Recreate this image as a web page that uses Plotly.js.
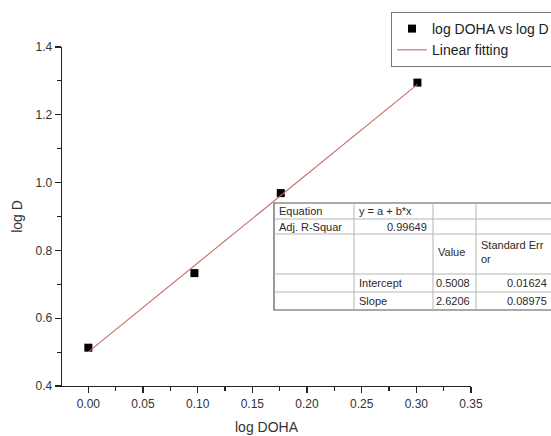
<!DOCTYPE html>
<html>
<head>
<meta charset="utf-8">
<script src="https://cdn.plot.ly/plotly-3.0.1.min.js"></script>
<style>html,body{margin:0;padding:0;background:#fff;}#chart{width:551px;height:436px;}</style>
</head>
<body>
<div id="chart"></div>
<script>
// ---- data ----
const logDOHA = [0, 0.097, 0.176, 0.301];
const logD = [0.513, 0.733, 0.969, 1.295];
const fitX = [0, 0.301];
const fitY = [0.5008, 1.2896];
const seriesName = 'log DOHA vs log D';
const fitName = 'Linear fitting';
const xTickVals = [0, 0.05, 0.10, 0.15, 0.20, 0.25, 0.30, 0.35];
const yTickVals = [0.4, 0.6, 0.8, 1.0, 1.2, 1.4];
// fit report table (rows of cells, '' = empty cell)
const tableCol1 = ['Equation', 'Adj. R-Squar', '', '', ''];
const tableCol2 = ['y = a + b*x', '0.99649', '', 'Intercept', 'Slope'];
const tableCol3 = ['', '', 'Value', '0.5008', '2.6206'];
const tableCol4 = ['', '', 'Standard Err<br>or', '0.01624', '0.08975'];

// ---- layout helpers (pixel -> paper) ----
const W = 551, H = 436, L = 62, R = 80, T = 47, B = 50;
const PW = W - L - R, PH = H - T - B;
const px = p => (p - L) / PW;
const py = p => (H - B - p) / PH;

const font = 'Arial, "Liberation Sans", sans-serif';
const txtColor = '#2a2a2a';

// table geometry
const colX = [274, 354, 433, 476, 600];
const colTextRight = [350, 429, 472, 549];
const rowY = [203, 219, 234, 274, 292, 310];
const shapes = [];
shapes.push({type:'rect', xref:'paper', yref:'paper', x0:px(colX[0]), x1:px(colX[4]), y0:py(rowY[0]), y1:py(rowY[5]),
  fillcolor:'#ffffff', line:{color:'#555', width:1.2}, layer:'above'});
for (let i = 1; i < rowY.length - 1; i++) {
  shapes.push({type:'line', xref:'paper', yref:'paper', x0:px(colX[0]), x1:px(colX[4]), y0:py(rowY[i]), y1:py(rowY[i]),
    line:{color:'#b5b5b5', width:1}});
}
for (let j = 1; j < colX.length - 1; j++) {
  shapes.push({type:'line', xref:'paper', yref:'paper', x0:px(colX[j]), x1:px(colX[j]), y0:py(rowY[0]), y1:py(rowY[5]),
    line:{color:'#b5b5b5', width:1}});
}

const annotations = [];
function cell(text, col, row, align) {
  if (!text) return;
  const yc = (rowY[row] + rowY[row + 1]) / 2;
  const xp = align === 'right' ? colTextRight[col] : colX[col] + 3;
  annotations.push({text: text, xref:'paper', yref:'paper', x:px(xp), y:py(row === 2 ? rowY[row] + 18 : yc),
    xanchor: align, yanchor:'middle', showarrow:false, align:'left',
    font:{family:font, size:11, color:txtColor}});
}
const rightCols = [false, true, true, true];
[tableCol1, tableCol2, tableCol3, tableCol4].forEach((col, c) => {
  col.forEach((t, r) => {
    let al = 'left';
    if (rightCols[c] && /^[0-9.]+$/.test(t)) al = 'right';
    cell(t, c, r, al);
  });
});

const traces = [
  {x: logDOHA, y: logD, type:'scatter', mode:'markers', name: seriesName,
   marker:{symbol:'square', size:8, color:'#000'}},
  {x: fitX, y: fitY, type:'scatter', mode:'lines', name: fitName,
   line:{color:'#c46a66', width:1.1}}
];

const axisCommon = {
  showline:true, linecolor:'#222', linewidth:1.3, showgrid:false, zeroline:false,
  ticks:'outside', ticklen:6, tickwidth:1.2, tickcolor:'#222',
  tickfont:{family:font, size:12, color:'#333'}, mirror:false
};

const layout = {
  width: W, height: H,
  margin:{l:L, r:R, t:T, b:B, autoexpand:false},
  paper_bgcolor:'#fff', plot_bgcolor:'#fff',
  font:{family:font, color:txtColor},
  xaxis: Object.assign({}, axisCommon, {
    range:[-0.0241, 0.35], tickvals:xTickVals, tickformat:'.2f',
    minor:{dtick:0.025, tick0:0, ticks:'outside', ticklen:4, tickwidth:1.1, tickcolor:'#222'},
    title:{text:'log DOHA', font:{family:font, size:14, color:'#333'}, standoff:12}
  }),
  yaxis: Object.assign({}, axisCommon, {
    range:[0.4, 1.4], tickvals:yTickVals, tickformat:'.1f',
    minor:{dtick:0.1, tick0:0.4, ticks:'outside', ticklen:4, tickwidth:1.1, tickcolor:'#222'},
    title:{text:'log D', font:{family:font, size:14, color:'#333'}, standoff:9}
  }),
  showlegend:true,
  legend:{x:px(391), y:py(12), xanchor:'left', yanchor:'top', bgcolor:'#fff',
    bordercolor:'#777', borderwidth:1, font:{family:font, size:14, color:'#222'},
    tracegroupgap:0},
  shapes: shapes,
  annotations: annotations
};

Plotly.newPlot('chart', traces, layout, {displayModeBar:false, staticPlot:true});
</script>
</body>
</html>
